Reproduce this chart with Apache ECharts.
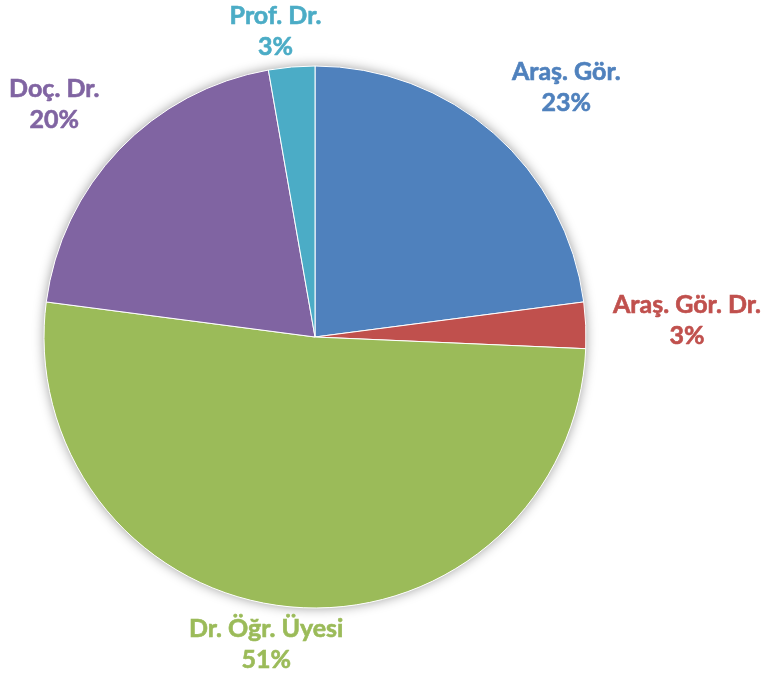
<!DOCTYPE html>
<html>
<head>
<meta charset="utf-8">
<style>
  html, body { margin: 0; padding: 0; background: #ffffff; }
  #chart { width: 761px; height: 675px; }
</style>
<script src="https://cdn.jsdelivr.net/npm/echarts@6/dist/echarts.min.js"></script>
</head>
<body>
<div id="chart"></div>
<script>
const categories = ['Araş. Gör.', 'Araş. Gör. Dr.', 'Dr. Öğr. Üyesi', 'Doç. Dr.', 'Prof. Dr.'];
const values = [25, 3, 56, 22, 3];
const colors = ['#4F81BD', '#C0504D', '#9BBB59', '#8064A2', '#4BACC6'];

const W = 761, H = 675;
const CX = 315, CY = 337, R = 271;
const GAP = 27, K = 0.29;
const total = values.reduce((a, b) => a + b, 0);

function midAngle(i) {
  let s = 0;
  for (let j = 0; j < i; j++) s += values[j];
  return (s + values[i] / 2) / total * 2 * Math.PI;
}
const clamp = v => Math.max(-1, Math.min(1, v));

const chart = echarts.init(document.getElementById('chart'), null, { renderer: 'canvas' });

const data = categories.map((name, i) => ({
  name: name,
  value: values[i],
  itemStyle: { color: colors[i] },
  label: { color: colors[i], textBorderColor: colors[i] }
}));

chart.setOption({
  animation: false,
  backgroundColor: '#ffffff',
  series: [
    {
      type: 'pie',
      silent: true,
      z: 1,
      center: [CX, CY],
      radius: R,
      data: [{ value: total, name: '' }],
      itemStyle: { color: '#ffffff', shadowBlur: 12, shadowColor: 'rgba(0,0,0,0.4)' },
      label: { show: false },
      labelLine: { show: false }
    },
    {
      type: 'pie',
      z: 2,
      center: [CX, CY],
      radius: R,
      startAngle: 90,
      clockwise: true,
      avoidLabelOverlap: false,
      data: data,
      itemStyle: { borderColor: '#ffffff', borderWidth: 1 },
      label: {
        show: true,
        position: 'outside',
        fontFamily: 'Lato',
        fontWeight: 'bold',
        fontSize: 25,
        lineHeight: 31,
        align: 'center',
        textBorderWidth: 0.6,
        formatter: p => p.name + '\n' + Math.round(p.percent) + '%'
      },
      labelLine: { show: false },
      labelLayout: function (p) {
        const a = midAngle(p.dataIndex);
        const ux = Math.sin(a), uy = -Math.cos(a);
        const w = p.labelRect.width / 2;
        const hh = p.labelRect.height / 2;
        const h = hh - 5;
        const x = CX + (R + GAP) * ux + w * clamp(ux / K);
        let y = CY + (R + GAP) * uy + h * clamp(uy / K);
        y = Math.max(hh, Math.min(H - hh, y));
        return { x: x, y: y, align: 'center', verticalAlign: 'middle' };
      }
    }
  ]
});
</script>
</body>
</html>
